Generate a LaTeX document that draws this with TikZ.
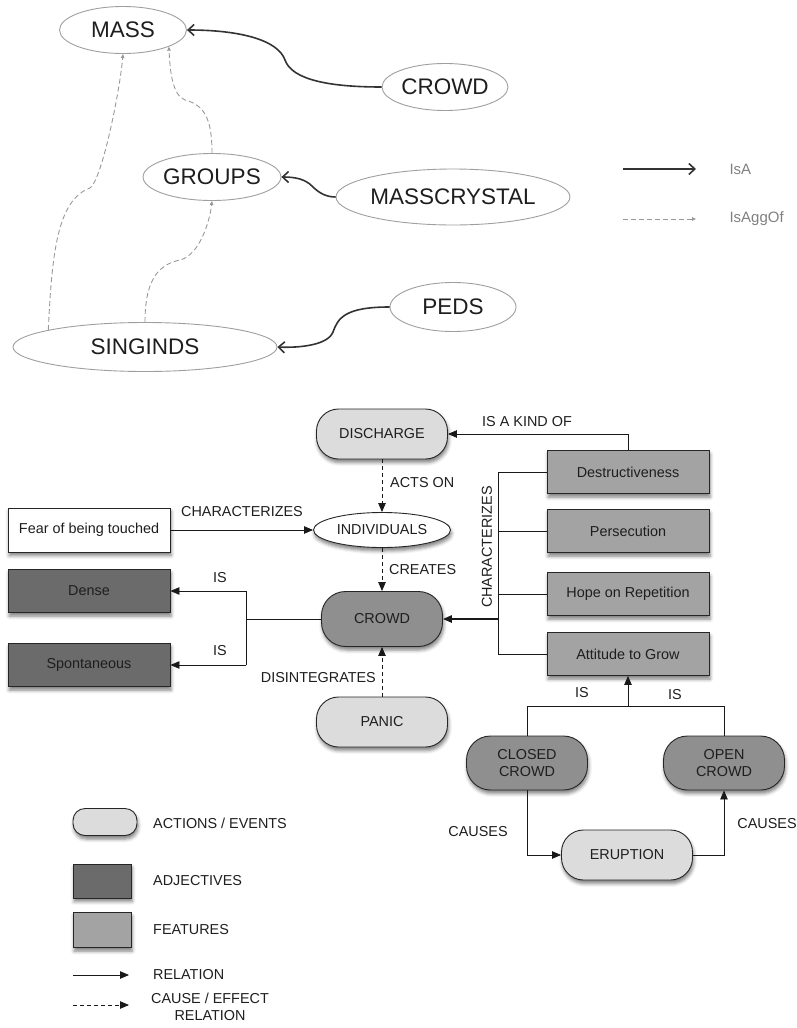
\documentclass[tikz,border=0pt]{standalone}
\usepackage{fontspec}
\setmainfont{Liberation Sans}
\usetikzlibrary{shapes.geometric,arrows.meta,shadows.blur,calc}
\definecolor{evtc}{HTML}{DCDCDC}
\definecolor{crwc}{HTML}{8F8F8F}
\definecolor{adjc}{HTML}{6B6B6B}
\definecolor{feac}{HTML}{A3A3A3}
\definecolor{txtc}{HTML}{1E1E1E}
\tikzset{
  topell/.style={ellipse, draw=gray!75, line width=0.9pt, fill=white, minimum width=#1, minimum height=47pt, inner sep=0pt, font=\fontsize{22.5}{26}\selectfont, text=txtc},
  isa/.style={draw=black!80, line width=1.6pt, -{Straight Barb[length=6pt,width=11pt]}},
  isagg/.style={draw=gray!80, line width=0.9pt, dash pattern=on 5pt off 3pt, -{Triangle[length=4pt,width=3.5pt]}},
  legtxt/.style={font=\fontsize{15}{18}\selectfont, text=black!50, anchor=west},
  shad/.style={blur shadow={shadow xshift=1pt, shadow yshift=-3.5pt, shadow blur radius=3.5pt, shadow opacity=50}},
  base/.style={draw=black!85, line width=0.9pt, inner sep=0pt, font=\fontsize{14.4}{17}\selectfont, text=txtc, shad, align=center},
  evt/.style={base, rectangle, rounded corners=22pt, fill=evtc, minimum width=131pt, minimum height=50pt},
  crw/.style={base, rectangle, rounded corners=24pt, fill=crwc, minimum width=121pt, minimum height=55pt},
  adj/.style={base, rectangle, fill=adjc, minimum width=162pt, minimum height=43pt},
  fea/.style={base, rectangle, fill=feac, minimum width=162pt, minimum height=43pt},
  lbl/.style={font=\fontsize{14.4}{17}\selectfont, text=txtc, inner sep=0pt, align=center},
  rel/.style={draw=black!90, line width=0.8pt},
  relarrow/.style={rel, -{Triangle[length=9pt,width=7.5pt]}},
  cause/.style={relarrow, dash pattern=on 4pt off 3pt},
}
\begin{document}
\begin{tikzpicture}[x=1pt,y=-1pt]
\useasboundingbox (0,0) rectangle (797,1028);
% ---------------- top graph ----------------
\node[topell=127pt] (mass) at (123,30) {MASS};
\node[topell=126pt] (crowdA) at (445,87) {CROWD};
\node[topell=126pt] (groups) at (212,177) {GROUPS};
\node[topell=206pt, minimum height=56pt] (mc) at (453,197) {MASSCRYSTAL};
\node[topell=126pt, minimum height=49pt] (peds) at (453,307) {PEDS};
\node[topell=264pt, minimum height=49pt] (sing) at (145,347) {SINGINDS};

\draw[isa] (crowdA.west) .. controls (330,87) and (292,80) .. (285,60) .. controls (278,40) and (240,30) .. (mass.east);
\draw[isa] (mc.west) .. controls (325,197) and (318,192) .. (312,186) .. controls (305,179) and (295,177) .. (groups.east);
\draw[isa] (peds.west) .. controls (345,307) and (338,318) .. (333,332) .. controls (328,345) and (300,348) .. (sing.east);

\draw[isagg] (sing.170) .. controls (52,250) and (58,200) .. (90,188) .. controls (102,180) and (120,90) .. (mass.south);
\draw[isagg] (sing.north) .. controls (145,285) and (155,265) .. (180,260) .. controls (200,255) and (210,220) .. (groups.south);
\draw[isagg] (groups.north) .. controls (212,120) and (205,105) .. (185,100) .. controls (172,95) and (170,70) .. (mass.-20);

% top legend
\coordinate (l1a) at (623,169); \coordinate (l1b) at (696,169);
\coordinate (l2a) at (623,219); \coordinate (l2b) at (696,219);
\draw[isa] (l1a) -- (l1b);
\draw[isagg] (l2a) -- (l2b);
\node[legtxt] (tisa) at (726,169) {IsA};
\node[legtxt] (tisagg) at (726,219) {IsAggOf};

% ---------------- bottom graph ----------------
\node[evt] (disch) at (382,434) {DISCHARGE};
\node[base, ellipse, fill=white, minimum width=137pt, minimum height=35pt] (indiv) at (382,530) {INDIVIDUALS};
\node[crw] (crowd) at (382,619) {CROWD};
\node[evt] (panic) at (382,722) {PANIC};
\node[base, rectangle, fill=white, minimum width=162pt, minimum height=44pt] (fear) at (89,530) {Fear of being touched};
\node[adj] (dense) at (89,591) {Dense};
\node[adj] (spont) at (89,665) {Spontaneous};
\node[fea] (destr) at (628,472) {Destructiveness};
\node[fea] (pers) at (628,531) {Persecution};
\node[fea] (hope) at (628,594) {Hope on Repetition};
\node[fea] (attit) at (628,654) {Attitude to Grow};
\node[crw, minimum height=54pt] (closed) at (527,763) {CLOSED\\CROWD};
\node[crw, minimum height=54pt] (open) at (724,763) {OPEN\\CROWD};
\node[evt] (erupt) at (627,855) {ERUPTION};

% connectors
\draw[relarrow] (destr.north) |- (disch.east);
\node[lbl] (tkind) at (527,422) {IS A KIND OF};
\draw[cause] (disch.south) -- (indiv.north);
\node[lbl, anchor=west] (tacts) at (390,483) {ACTS ON};
\draw[cause] (indiv.south) -- (crowd.north);
\node[lbl, anchor=west] (tcre) at (389,570) {CREATES};
\draw[cause] (panic.north) -- (crowd.south);
\node[lbl, anchor=east] (tdis) at (376,678) {DISINTEGRATES};
\draw[relarrow] (fear.east) -- (indiv.west);
\node[lbl] (tchar1) at (242,512) {CHARACTERIZES};

\coordinate (busL) at (246,0);
\draw[rel] (crowd.west) -- (crowd.west -| busL);
\draw[rel] (dense.east -| busL) -- (spont.east -| busL);
\draw[relarrow] (dense.east -| busL) -- (dense.east);
\draw[relarrow] (spont.east -| busL) -- (spont.east);
\node[lbl] (tis1) at (220,578) {IS};
\node[lbl] (tis2) at (220,651) {IS};

\coordinate (busR) at (498,0);
\draw[rel] (destr.west) -- (destr.west -| busR) -- (attit.west -| busR) -- (attit.west);
\draw[rel] (pers.west) -- (pers.west -| busR);
\draw[rel] (hope.west) -- (hope.west -| busR);
\draw[relarrow, line width=1.4pt] (crowd.east -| busR) -- (crowd.east);
\node[lbl, rotate=90] (tchar2) at (487,547) {CHARACTERIZES};

\coordinate (isy) at (0,706);
\draw[rel] (closed.north) -- (closed.north |- isy) -- (open.north |- isy) -- (open.north);
\draw[relarrow] (attit.south |- isy) -- (attit.south);
\node[lbl] (tis3) at (582,693) {IS};
\node[lbl] (tis4) at (675,695) {IS};

\draw[relarrow] (closed.south) |- (erupt.west);
\draw[relarrow] (erupt.east) -| (open.south);
\node[lbl] (tc1) at (478,832) {CAUSES};
\node[lbl] (tc2) at (767,824) {CAUSES};

% bottom legend
\node[base, rectangle, rounded corners=12pt, fill=evtc, minimum width=64pt, minimum height=27pt] (lg1) at (105,822) {};
\node[base, rectangle, fill=adjc, minimum width=58pt, minimum height=34pt] (lg2) at (102,881) {};
\node[base, rectangle, fill=feac, minimum width=58pt, minimum height=35pt] (lg3) at (102,930) {};
\node[lbl, anchor=west] (tl1) at (153,823) {ACTIONS / EVENTS};
\node[lbl, anchor=west] (tl2) at (153,881) {ADJECTIVES};
\node[lbl, anchor=west] (tl3) at (153,930) {FEATURES};
\coordinate (r1a) at (73,975); \coordinate (r1b) at (129,975);
\coordinate (r2a) at (73,1005); \coordinate (r2b) at (129,1005);
\draw[relarrow] (r1a) -- (r1b);
\draw[cause] (r2a) -- (r2b);
\node[lbl, anchor=west] (tl4) at (153,975) {RELATION};
\node[lbl, anchor=west, align=center] (tl5) at (151,1007) {CAUSE / EFFECT\\RELATION};
\end{tikzpicture}
\end{document}
